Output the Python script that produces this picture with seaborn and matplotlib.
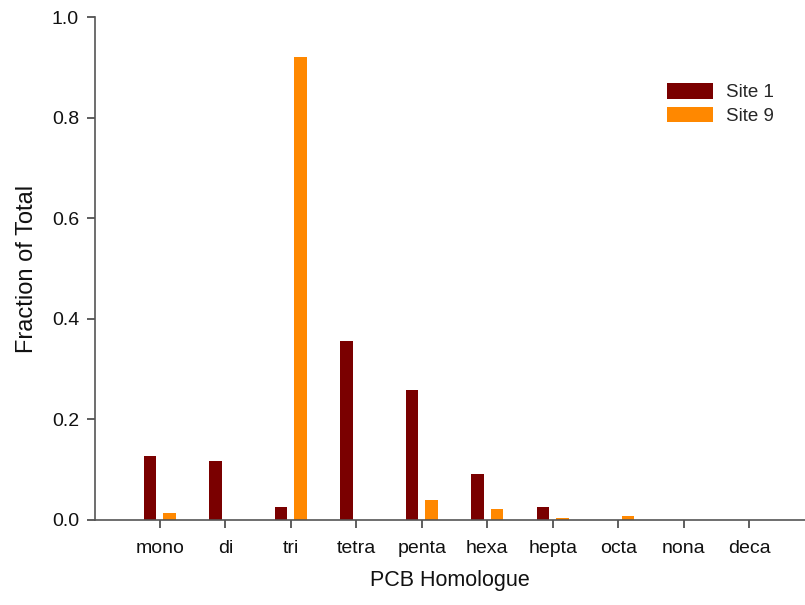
import matplotlib
matplotlib.use("Agg")
import matplotlib.pyplot as plt
import seaborn as sns
import pandas as pd

homologues = ["mono", "di", "tri", "tetra", "penta", "hexa", "hepta", "octa", "nona", "deca"]
site1 = [0.127, 0.117, 0.026, 0.356, 0.258, 0.091, 0.026, 0.0, 0.0, 0.0]
site9 = [0.014, 0.0, 0.920, 0.0, 0.039, 0.022, 0.003, 0.007, 0.0, 0.0]
site_names = ["Site 1", "Site 9"]
colors = ["#7A0000", "#FF8800"]

df = pd.DataFrame({
    "Homologue": homologues * 2,
    "Fraction": site1 + site9,
    "Site": [site_names[0]] * len(homologues) + [site_names[1]] * len(homologues),
})

sns.set_style("ticks")
plt.rcParams["font.family"] = ["Liberation Sans", "DejaVu Sans"]

fig = plt.figure(figsize=(8.05, 6.05), dpi=100)
ax = fig.add_axes([95 / 805, (605 - 520) / 605, 710 / 805, 503 / 605])

sns.barplot(data=df, x="Homologue", y="Fraction", hue="Site",
            palette=colors, width=0.6, gap=0.37, order=homologues,
            saturation=1, ax=ax, linewidth=0)

ax.set_xlim(-0.99, 9.85)
ax.set_ylim(0, 1.0)
ax.set_yticks([0.0, 0.2, 0.4, 0.6, 0.8, 1.0])
ax.set_yticklabels(["0.0", "0.2", "0.4", "0.6", "0.8", "1.0"])

for s in ["top", "right"]:
    ax.spines[s].set_visible(False)
for s in ["left", "bottom"]:
    ax.spines[s].set_color("#555555")
    ax.spines[s].set_linewidth(1.2)

ax.tick_params(axis="both", direction="out", length=5.5, width=1.1,
               color="#333333", labelsize=14, labelcolor="#111111")
ax.tick_params(axis="x", pad=9)
ax.tick_params(axis="y", pad=6)

ax.set_xlabel("PCB Homologue", fontsize=15.5, labelpad=9, color="#111111")
ax.set_ylabel("Fraction of Total", fontsize=17, labelpad=10, color="#111111")

leg = ax.legend(loc="upper left", bbox_to_anchor=(667 / 805, 1 - 83 / 605),
                bbox_transform=fig.transFigure, frameon=False,
                fontsize=13.5, handlelength=2.45, handleheight=0.9,
                handletextpad=0.7, labelspacing=0.3, borderpad=0,
                borderaxespad=0, title=None)

fig.savefig("out.png", dpi=100)
